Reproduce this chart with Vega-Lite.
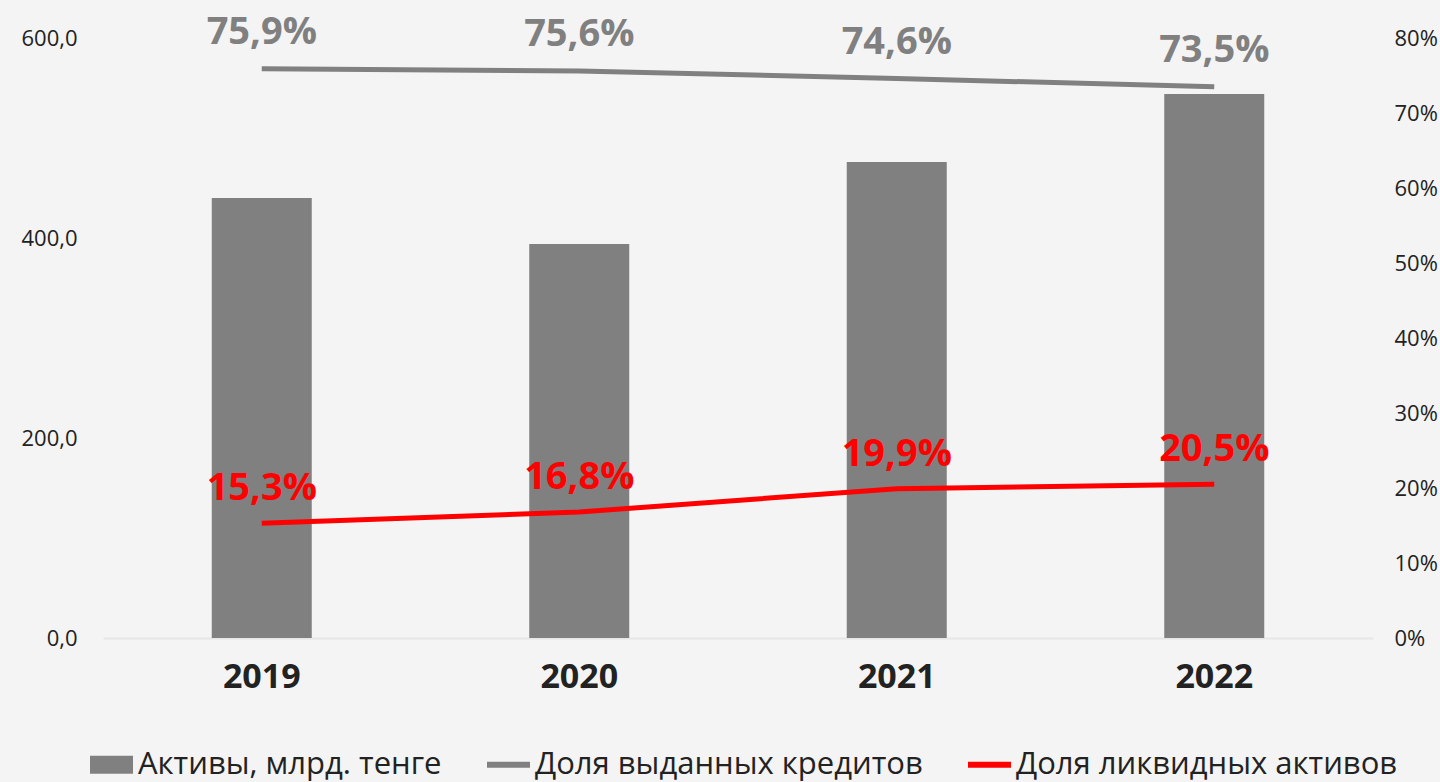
{
  "$schema": "https://vega.github.io/schema/vega-lite/v6.json",
  "width": 1270,
  "height": 600,
  "autosize": {"type": "none"},
  "padding": {"left": 103, "top": 38, "right": 67, "bottom": 144},
  "background": "#f4f4f4",
  "config": {
    "view": {"stroke": null},
    "font": "Open Sans",
    "locale": {"number": {"decimal": ",", "thousands": " ", "grouping": [3], "currency": ["", ""]}},
    "axis": {"grid": false, "ticks": false, "labelFont": "Open Sans", "labelColor": "#222222", "titleFontSize": 0}
  },
  "data": {"values": [
    {"year": "2019", "assets": 440, "credit": 0.759, "liquid": 0.153},
    {"year": "2020", "assets": 394, "credit": 0.756, "liquid": 0.168},
    {"year": "2021", "assets": 476, "credit": 0.746, "liquid": 0.199},
    {"year": "2022", "assets": 544, "credit": 0.735, "liquid": 0.205}
  ]},
  "encoding": {
    "x": {
      "field": "year", "type": "nominal", "title": null,
      "scale": {"paddingInner": 0.685, "paddingOuter": 0.3425},
      "axis": {"labelAngle": 0, "labelFontSize": 34, "labelFontWeight": "bold", "labelPadding": 22, "domain": true, "domainColor": "#e6e6e6", "domainWidth": 2}
    }
  },
  "layer": [
    {
      "mark": {"type": "bar", "color": "#808080"},
      "encoding": {
        "y": {"field": "assets", "type": "quantitative", "title": null,
          "scale": {"domain": [0, 600], "nice": false},
          "axis": {"values": [0, 200, 400, 600], "format": ".1f", "labelFontSize": 22, "labelPadding": 26, "domain": false}},
        "color": {"datum": "Активы, млрд. тенге", "type": "nominal",
          "scale": {"domain": ["Активы, млрд. тенге", "Доля выданных кредитов", "Доля ликвидных активов"], "range": ["#808080", "#808080", "#ff0000"]},
          "legend": {
            "title": null, "orient": "none", "direction": "horizontal", "legendX": -13, "legendY": 705,
            "labelFontSize": 31, "labelColor": "#222222", "labelFont": "Open Sans", "labelOffset": 5, "labelLimit": 0,
            "symbolSize": 1849, "columnPadding": 45, "symbolType": "square",
            "encode": {"symbols": {"update": {
              "shape": {"signal": "datum.value == 'Активы, млрд. тенге' ? 'M-1,-0.42H1V0.42H-1Z' : 'M-1,-0.14H1V0.14H-1Z'"},
              "fill": {"scale": "color", "field": "value"},
              "strokeWidth": {"value": 0},
              "opacity": {"value": 1}
            }}}
          }}
      }
    },
    {
      "encoding": {
        "y": {"type": "quantitative", "title": null,
          "scale": {"domain": [0, 0.8], "nice": false},
          "axis": {"orient": "right", "values": [0, 0.1, 0.2, 0.3, 0.4, 0.5, 0.6, 0.7, 0.8], "format": ".0%", "labelFontSize": 22, "labelPadding": 21, "domain": false}}
      },
      "layer": [
        {
          "mark": {"type": "line", "strokeWidth": 5},
          "encoding": {
            "y": {"field": "credit", "type": "quantitative"},
            "color": {"datum": "Доля выданных кредитов", "type": "nominal"}
          }
        },
        {
          "mark": {"type": "text", "color": "#808080", "font": "Open Sans", "fontSize": 38, "fontWeight": "bold", "baseline": "alphabetic", "dy": -25},
          "encoding": {
            "y": {"field": "credit", "type": "quantitative"},
            "text": {"field": "credit", "type": "quantitative", "format": ".1%"}
          }
        },
        {
          "mark": {"type": "line", "strokeWidth": 5},
          "encoding": {
            "y": {"field": "liquid", "type": "quantitative"},
            "color": {"datum": "Доля ликвидных активов", "type": "nominal"}
          }
        },
        {
          "mark": {"type": "text", "color": "#ff0000", "font": "Open Sans", "fontSize": 38, "fontWeight": "bold", "baseline": "alphabetic", "dy": -23},
          "encoding": {
            "y": {"field": "liquid", "type": "quantitative"},
            "text": {"field": "liquid", "type": "quantitative", "format": ".1%"}
          }
        }
      ]
    }
  ],
  "resolve": {"scale": {"y": "independent"}}
}
